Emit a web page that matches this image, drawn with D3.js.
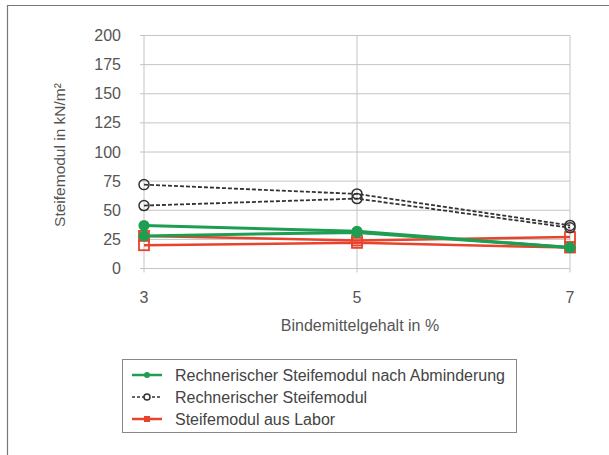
<!DOCTYPE html>
<html><head><meta charset="utf-8">
<script src="https://cdn.jsdelivr.net/npm/d3@7"></script>
<style>body{margin:0;background:#fff;}svg{display:block;font-family:"Liberation Sans",Arial,sans-serif;}</style>
</head><body>
<script>
const categories = [3, 5, 7];
const yTicks = [0, 25, 50, 75, 100, 125, 150, 175, 200];
const greenA = [37, 32, 18];
const greenB = [28, 31, 18];
const blackA = [72, 64, 37];
const blackB = [54, 60, 35];
const redA = [28, 24, 27];
const redB = [20, 22, 18];
const legendLabels = ["Rechnerischer Steifemodul nach Abminderung", "Rechnerischer Steifemodul", "Steifemodul aus Labor"];

const W = 609, H = 455;
const svg = d3.select("body").append("svg").attr("width", W).attr("height", H);

// outer frame (top and left)
svg.append("line").attr("x1", 7).attr("x2", W).attr("y1", 5.5).attr("y2", 5.5).attr("stroke", "#777").attr("stroke-width", 1.2);
svg.append("line").attr("x1", 7.5).attr("x2", 7.5).attr("y1", 5).attr("y2", H).attr("stroke", "#777").attr("stroke-width", 1.2);

const x = d3.scaleLinear().domain([3, 7]).range([144, 570]);
const y = d3.scaleLinear().domain([0, 200]).range([268.5, 35.5]);

const grid = "#c4c4c4";
svg.append("g").selectAll("line").data(yTicks).join("line")
  .attr("x1", 140).attr("x2", 570)
  .attr("y1", d => y(d)).attr("y2", d => y(d))
  .attr("stroke", grid).attr("stroke-width", 1);
svg.append("g").selectAll("line").data(categories).join("line")
  .attr("x1", d => x(d)).attr("x2", d => x(d))
  .attr("y1", y(200)).attr("y2", y(0) + 4)
  .attr("stroke", grid).attr("stroke-width", 1);

const fs = 16;
svg.append("g").selectAll("text").data(yTicks).join("text")
  .attr("x", 121).attr("y", d => y(d)).attr("dy", "0.35em")
  .attr("text-anchor", "end").attr("font-size", fs).attr("fill", "#555")
  .text(d => d);
svg.append("g").selectAll("text").data(categories).join("text")
  .attr("x", d => x(d)).attr("y", 297).attr("dy", "0.35em")
  .attr("text-anchor", "middle").attr("font-size", fs).attr("fill", "#555")
  .text(d => d);

svg.append("text").attr("x", 360).attr("y", 325).attr("dy", "0.35em")
  .attr("text-anchor", "middle").attr("font-size", fs).attr("fill", "#555")
  .text("Bindemittelgehalt in %");
svg.append("text").attr("transform", "translate(60,155) rotate(-90)").attr("dy", "0.35em")
  .attr("text-anchor", "middle").attr("font-size", 15.5).attr("fill", "#555")
  .text("Steifemodul in kN/m²");

const line = d3.line().x((d, i) => x(categories[i])).y(d => y(d));

const green = "#1e9e52", red = "#e8432c", black = "#333";

function drawSeries(vals, color, width, dash) {
  svg.append("path").datum(vals).attr("d", line).attr("fill", "none")
    .attr("stroke", color).attr("stroke-width", width).attr("stroke-dasharray", dash || null);
}
[blackA, blackB].forEach(s => drawSeries(s, black, 1.8, "4,2"));
[redA, redB].forEach(s => drawSeries(s, red, 2.5));
[redA, redB].forEach(s => {
  svg.append("g").selectAll("rect").data(s).join("rect")
    .attr("x", (d, i) => x(categories[i]) - 5).attr("y", d => y(d) - 5)
    .attr("width", 10).attr("height", 10)
    .attr("fill", "none").attr("stroke", red).attr("stroke-width", 1.8);
});
[greenA, greenB].forEach(s => drawSeries(s, green, 3));
[greenA, greenB].forEach(s => {
  svg.append("g").selectAll("circle").data(s).join("circle")
    .attr("cx", (d, i) => x(categories[i])).attr("cy", d => y(d)).attr("r", 5.5)
    .attr("fill", green);
});
[blackA, blackB].forEach(s => {
  svg.append("g").selectAll("circle").data(s).join("circle")
    .attr("cx", (d, i) => x(categories[i])).attr("cy", d => y(d)).attr("r", 5)
    .attr("fill", "none").attr("stroke", black).attr("stroke-width", 1.5);
});

// legend
svg.append("rect").attr("x", 122.5).attr("y", 359.5).attr("width", 394).attr("height", 73)
  .attr("fill", "#fff").attr("stroke", "#888").attr("stroke-width", 1);
const legY = [375, 397, 419];
const lg = svg.append("g").selectAll("g").data(legendLabels).join("g")
  .attr("transform", (d, i) => `translate(0,${legY[i]})`);
lg.append("text").attr("x", 175).attr("dy", "0.35em").attr("font-size", fs).attr("fill", "#444").text(d => d);
const sw = lg.filter((d, i) => i === 0);
sw.append("line").attr("x1", 132).attr("x2", 162).attr("stroke", green).attr("stroke-width", 2.5);
sw.append("circle").attr("cx", 147).attr("r", 3).attr("fill", green);
const sb = lg.filter((d, i) => i === 1);
sb.append("line").attr("x1", 132).attr("x2", 162).attr("stroke", black).attr("stroke-width", 1.5).attr("stroke-dasharray", "3,2");
sb.append("circle").attr("cx", 147).attr("r", 3).attr("fill", "#fff").attr("stroke", black).attr("stroke-width", 1.5);
const sr = lg.filter((d, i) => i === 2);
sr.append("line").attr("x1", 132).attr("x2", 162).attr("stroke", red).attr("stroke-width", 2.5);
sr.append("rect").attr("x", 144).attr("y", -3).attr("width", 6).attr("height", 6).attr("fill", red);
</script>
</body></html>
